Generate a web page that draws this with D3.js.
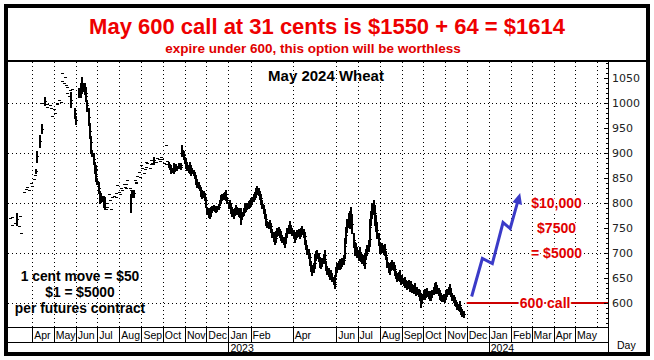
<!DOCTYPE html>
<html><head><meta charset="utf-8">
<script src="https://cdn.jsdelivr.net/npm/d3@7/dist/d3.min.js"></script>
<style>body{margin:0;background:#fff}svg{display:block}</style>
</head><body><svg id="c" width="654" height="360"></svg>
<script>
// ---------------- DATA ----------------
const startDate = "2022-03-01"; // first trading day (weekdays follow)
const highs = [
770,null,756,772,null,760,null,780,null,753,
775,740,null,null,822,null,828,833,null,826,
null,840,834,null,848,856,868,null,905,null,
936,null,958,1000,null,1012,null,999,993,null,
995,990,null,975,989,980,null,999,1000,1006,
null,1002,1045,1059,1040,1052,1035,1020,1032,1015,
1026,1022,1029,null,null,990,975,null,null,1030,
null,1036,1040,1053,1040,1040,1032,1025,1006,990,
960,935,912,906,900,882,876,862,850,842,
825,820,null,815,815,812,800,789,793,819,
806,null,789,813,814,null,820,812,836,823,
819,830,null,826,839,833,830,838,846,null,
830,819,826,826,826,846,843,840,855,863,
853,876,null,870,860,868,873,883,880,null,
870,878,886,880,893,882,null,883,890,889,
884,null,893,888,880,null,878,916,885,882,
878,876,874,870,880,872,876,878,874,880,
876,878,880,916,905,892,890,884,880,876,
882,876,872,870,866,862,856,852,848,842,
836,832,828,826,824,820,812,806,792,790,
786,790,792,794,796,792,794,790,794,798,
806,812,816,818,820,822,826,820,812,802,
806,800,796,792,788,790,794,796,792,790,
786,790,784,782,790,798,800,796,800,804,
806,810,808,812,818,822,826,830,835,830,
824,818,812,806,796,786,778,768,764,762,
766,760,756,748,742,736,740,744,750,752,
748,744,740,736,732,728,730,740,750,756,
760,763,756,750,746,742,738,742,746,748,
748,744,750,753,748,742,736,726,716,708,
700,692,684,676,680,690,698,704,706,700,
692,688,684,690,698,706,698,684,674,670,
666,662,666,660,652,648,656,672,680,684,
688,682,686,690,696,712,730,752,768,780,
772,784,792,776,740,722,716,720,712,706,
712,708,702,698,696,690,700,708,716,726,
740,768,784,800,806,796,786,776,762,740,
720,722,718,720,716,718,712,704,692,680,
674,678,682,686,682,676,670,664,660,662,
666,660,654,656,650,648,652,646,644,646,
642,640,644,638,636,640,634,630,632,628,
626,622,620,618,624,628,622,626,630,624,
620,624,620,626,632,636,640,641,636,630,
626,622,620,616,618,614,618,624,628,632,
638,634,628,620,616,612,610,606,602,598,
604,598,592,588,584];
const lows = [
770,null,756,772,null,760,null,756,null,753,
775,740,null,null,822,null,828,833,null,826,
null,840,834,null,848,856,860,null,882,null,
912,null,940,1000,null,995,null,999,993,null,
995,990,null,975,989,980,null,999,1000,1006,
null,1002,1045,1059,1040,1052,1035,1020,1032,1015,
1026,992,1029,null,null,970,958,null,null,1012,
null,1012,1020,1020,1025,1018,1010,1005,985,956,
930,910,900,895,878,860,862,845,838,820,
800,802,null,805,792,789,800,789,793,819,
806,null,789,813,814,null,820,812,836,823,
819,830,null,826,839,833,830,838,846,null,
830,783,826,812,813,846,843,840,855,863,
853,876,null,870,860,868,873,883,880,null,
870,878,886,880,879,882,null,883,890,889,
884,null,893,888,880,null,878,916,885,872,
868,862,860,862,860,864,866,870,866,870,
870,868,872,895,888,880,874,870,866,862,
860,858,856,860,856,850,842,838,832,830,
826,820,814,810,812,806,800,792,778,772,
770,774,778,784,786,784,786,782,784,788,
796,802,804,806,808,810,812,806,800,790,
790,784,780,774,770,776,780,782,778,774,
772,776,758,768,776,782,786,784,788,790,
792,796,794,798,804,808,812,816,820,816,
808,804,798,790,780,770,760,756,752,750,
754,748,742,732,724,718,722,728,734,736,
732,730,726,722,718,712,714,724,732,740,
744,746,740,736,730,726,722,728,732,734,
736,730,734,738,732,726,718,708,698,690,
684,676,664,656,662,672,680,686,690,684,
676,672,670,674,680,688,680,666,658,654,
652,648,650,644,638,630,640,654,664,668,
672,668,670,674,678,690,700,720,742,752,
750,756,764,740,712,700,696,700,692,686,
692,688,684,680,676,670,678,688,696,704,
716,738,756,770,778,766,756,744,730,716,
700,704,700,702,698,700,696,688,672,662,
658,662,666,668,666,662,656,650,644,646,
648,644,638,640,636,632,636,632,628,630,
626,624,628,622,620,624,620,616,618,614,
612,606,592,600,608,612,608,612,614,610,
606,608,606,612,618,620,624,626,620,616,
612,608,606,604,604,602,604,608,614,618,
622,620,614,606,602,600,596,594,588,586,
590,584,578,574,572];

const yLabelTicks = [600,650,700,750,800,850,900,950,1000,1050];
const gridPrices = [600,700,800,900,1000];
const monthStarts = ["2022-04-01","2022-05-01","2022-06-01","2022-07-01","2022-08-01","2022-09-01","2022-10-01","2022-11-01","2022-12-01",
  "2023-01-01","2023-02-01","2023-04-01","2023-06-01","2023-07-01","2023-08-01","2023-09-01","2023-10-01","2023-11-01","2023-12-01",
  "2024-01-01","2024-02-01","2024-03-01","2024-04-01","2024-05-01"];
const monthNames = ["Apr","May","Jun","Jul","Aug","Sep","Oct","Nov","Dec",
  "Jan","Feb","Apr","Jun","Jul","Aug","Sep","Oct","Nov","Dec",
  "Jan","Feb","Mar","Apr","May"];
const extraGridMonths = ["2024-06-01"];
const yearStarts = ["2023-01-01","2024-01-01"];
const yearNames = ["2023","2024"];

const arrowDates = ["2023-12-08","2023-12-23","2024-01-06","2024-01-21","2024-01-31","2024-02-14"];
const arrowPrices = [613,689,679,761,749,820];
const strikeStart = "2023-12-01";
const strikePrice = 600;
const payoffPrices = [800,750,700];
const payoffTexts = ["$10,000","$7500","= $5000"];
const payoffDate = "2024-04-05";
const strikeLabelDate = "2024-03-20";

const titleText = "May 600 call at 31 cents is $1550 + 64 = $1614";
const subText = "expire under 600, this option will be worthless";
const chartTitle = "May 2024 Wheat";
const noteLines = ["1 cent move = $50","$1 = $5000","per futures contract"];

// ---------------- CHART ----------------
const parse = d3.timeParse("%Y-%m-%d");
const svg = d3.select("#c");
const P = {l:8, r:608, t:62, b:327};
const x = d3.scaleTime().domain([parse("2022-02-24"), parse("2024-06-16")]).range([6.6, 607.9]);
const y = d3.scaleLinear().domain([552,1084]).range([327,61]);
const px = v => Math.round(v) + 0.5;
const FONT = "Liberation Sans, Arial, sans-serif";

svg.append("rect").attr("width",654).attr("height",360).attr("fill","#fff");

// grid
const grid = svg.append("g").attr("stroke","#000").attr("stroke-width",1).attr("stroke-dasharray","1,3").attr("shape-rendering","crispEdges");
gridPrices.forEach(p => grid.append("line").attr("x1",P.l).attr("x2",P.r).attr("y1",px(y(p))).attr("y2",px(y(p))));
monthStarts.concat(extraGridMonths).forEach(m => grid.append("line").attr("x1",px(x(parse(m)))).attr("x2",px(x(parse(m)))).attr("y1",P.t).attr("y2",P.b));

// bars
const dates = [];
let dd = parse(startDate);
while (dates.length < highs.length) {
  const wd = dd.getDay();
  if (wd !== 0 && wd !== 6) dates.push(dd);
  dd = d3.timeDay.offset(dd, 1);
}
let vStr = "", tStr = "";
highs.forEach((h,i) => {
  if (h == null) return;
  const l = lows[i];
  const xv = x(dates[i]);
  const xx = Math.round(xv);
  const yh = y(h), yl = y(l);
  const ym = Math.round((yh+yl)/2) + 0.5;
  if (yl - yh >= 1) vStr += `M${xx},${Math.round(yh)}V${Math.round(yl)+1}`;
  tStr += `M${xx-1.5},${ym}H${xx+1.5}`;
});
svg.append("path").attr("d",vStr).attr("fill","none").attr("stroke","#000").attr("stroke-width",2).attr("shape-rendering","crispEdges");
svg.append("path").attr("d",tStr).attr("fill","none").attr("stroke","#000").attr("stroke-width",1).attr("shape-rendering","crispEdges");

// strike line
svg.append("line").attr("x1",x(parse(strikeStart))).attr("x2",P.r).attr("y1",y(strikePrice)).attr("y2",y(strikePrice))
  .attr("stroke","#cc0000").attr("stroke-width",2);

// arrow
const apts = arrowDates.map((d,i)=>[x(parse(d)), y(arrowPrices[i])]);
const n = apts.length;
const [ax0,ay0] = apts[n-2], [ax1,ay1] = apts[n-1];
const ang = Math.atan2(ay1-ay0, ax1-ax0);
const hl = 11, hw = 5;
const bx = ax1 - hl*Math.cos(ang), by = ay1 - hl*Math.sin(ang);
const linePts = apts.slice(0,n-1).concat([[bx+2*Math.cos(ang), by+2*Math.sin(ang)]]);
svg.append("path").attr("d", d3.line()(linePts)).attr("fill","none").attr("stroke","#3b3bc8").attr("stroke-width",3).attr("stroke-linejoin","miter");
svg.append("path").attr("d", `M${ax1},${ay1}L${bx + hw*Math.sin(ang)},${by - hw*Math.cos(ang)}L${bx - hw*Math.sin(ang)},${by + hw*Math.cos(ang)}Z`).attr("fill","#3b3bc8");

// payoff labels
const red = "#e00000";
payoffPrices.forEach((p,i) => {
  svg.append("text").attr("x",x(parse(payoffDate))).attr("y",y(p)).attr("dy","0.36em").attr("text-anchor","middle")
    .attr("font-family",FONT).attr("font-weight","bold").attr("font-size",14)
    .attr("fill",red).attr("stroke","#fff").attr("stroke-width",3).attr("paint-order","stroke").text(payoffTexts[i]);
});
svg.append("text").attr("x",x(parse(strikeLabelDate))).attr("y",y(strikePrice)).attr("dy","0.36em").attr("text-anchor","middle")
  .attr("font-family",FONT).attr("font-weight","bold").attr("font-size",14)
  .attr("fill",red).attr("stroke","#fff").attr("stroke-width",3).attr("paint-order","stroke").text("600 call");

// chart title
svg.append("text").attr("x",326).attr("y",81).attr("text-anchor","middle")
  .attr("font-family",FONT).attr("font-weight","bold").attr("font-size",15).attr("fill","#000").text(chartTitle);

// notes
[281,297,313].forEach((yy,i) => svg.append("text").attr("x",80).attr("y",yy).attr("text-anchor","middle")
  .attr("font-family",FONT).attr("font-weight","bold").attr("font-size",13.8).attr("fill","#000").text(noteLines[i]));

// y axis
const axisG = svg.append("g").attr("transform",`translate(${P.r},0)`);
axisG.call(d3.axisRight(y).tickValues(yLabelTicks).tickFormat(d3.format("d")).tickSizeInner(-4).tickSizeOuter(0).tickPadding(4))
  .call(g => g.select(".domain").remove())
  .call(g => g.selectAll("text").attr("font-family","DejaVu Sans, sans-serif").attr("font-size",11).attr("fill","#222"))
  .call(g => g.selectAll("line").attr("stroke","#000").attr("shape-rendering","crispEdges"));
const minor = d3.range(560,1081,10).filter(v => v % 50 !== 0);
axisG.append("g").call(d3.axisRight(y).tickValues(minor).tickSizeInner(-2).tickSizeOuter(0).tickFormat(""))
  .call(g => g.select(".domain").remove())
  .call(g => g.selectAll("line").attr("stroke","#000").attr("shape-rendering","crispEdges"));
svg.append("line").attr("x1",P.r+0.5).attr("x2",P.r+0.5).attr("y1",P.t).attr("y2",353).attr("stroke","#000").attr("stroke-width",1).attr("shape-rendering","crispEdges");

// x axis area
const xa = svg.append("g").attr("stroke","#000").attr("stroke-width",1).attr("shape-rendering","crispEdges");
xa.append("line").attr("x1",P.l).attr("x2",P.r).attr("y1",327.5).attr("y2",327.5);
xa.append("line").attr("x1",P.l).attr("x2",P.r).attr("y1",342.5).attr("y2",342.5);
monthStarts.forEach(m => xa.append("line").attr("x1",px(x(parse(m)))).attr("x2",px(x(parse(m)))).attr("y1",328).attr("y2",342));
yearStarts.forEach(m => xa.append("line").attr("x1",px(x(parse(m)))).attr("x2",px(x(parse(m)))).attr("y1",343).attr("y2",353));
monthStarts.forEach((m,i) => svg.append("text").attr("x",x(parse(m))+2).attr("y",339).attr("font-family",FONT).attr("font-size",10.5).attr("fill","#000").text(monthNames[i]));
yearStarts.forEach((m,i) => svg.append("text").attr("x",x(parse(m))+2).attr("y",352).attr("font-family",FONT).attr("font-size",10.5).attr("fill","#000").text(yearNames[i]));
svg.append("text").attr("x",617).attr("y",349).attr("font-family",FONT).attr("font-size",10.5).attr("fill","#000").text("Day");

// title box
svg.append("rect").attr("x",6).attr("y",6).attr("width",642).attr("height",54).attr("fill","#fff");
svg.append("line").attr("x1",4).attr("x2",650).attr("y1",61).attr("y2",61).attr("stroke","#000").attr("stroke-width",2);
svg.append("text").attr("x",327).attr("y",34).attr("text-anchor","middle").attr("font-family",FONT)
  .attr("font-weight","bold").attr("font-size",22).attr("fill","#ee0000").text(titleText);
svg.append("text").attr("x",313).attr("y",53).attr("text-anchor","middle").attr("font-family",FONT)
  .attr("font-weight","bold").attr("font-size",13.5).attr("fill","#e00000").text(subText);

// outer frame
svg.append("rect").attr("x",6).attr("y",6).attr("width",642).attr("height",348).attr("fill","none").attr("stroke","#000").attr("stroke-width",4);
</script></body></html>
